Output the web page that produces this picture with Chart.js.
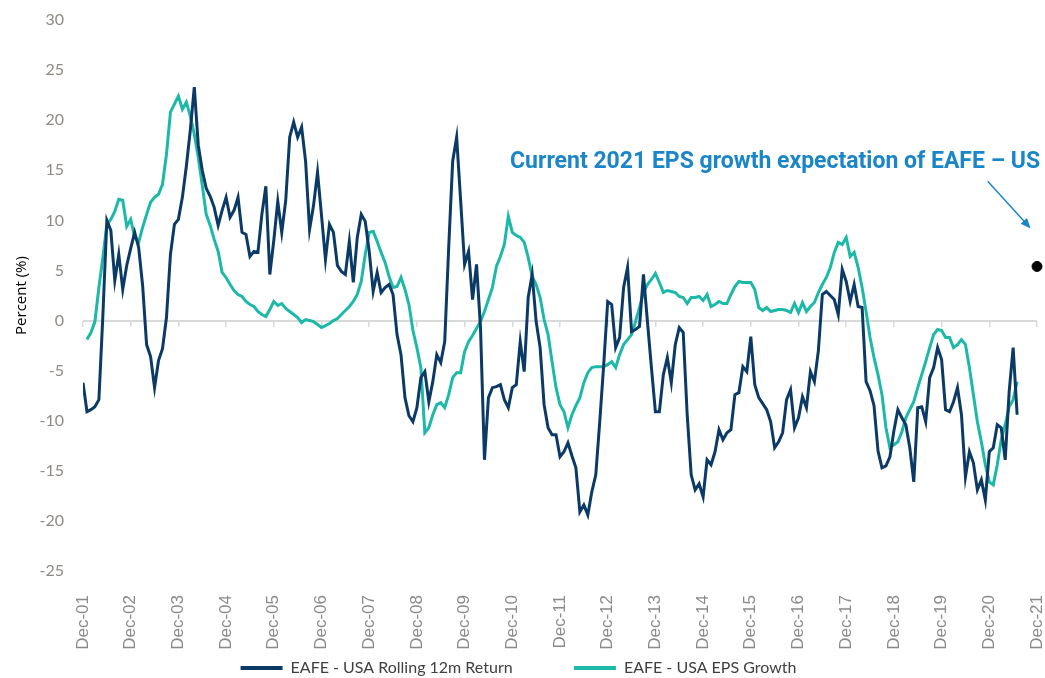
<!DOCTYPE html>
<html>
<head>
<meta charset="utf-8">
<script src="https://cdn.jsdelivr.net/npm/chart.js@4.4.1/dist/chart.umd.min.js"></script>
<style>
  body { margin: 0; background: #fff; }
  canvas { display: block; }
</style>
</head>
<body>
<canvas id="chart" width="1045" height="678"></canvas>
<script>
// x tick labels, one per December (month index 0, 12, 24 ...)
var tickLabels = ['Dec-01','Dec-02','Dec-03','Dec-04','Dec-05','Dec-06','Dec-07','Dec-08','Dec-09','Dec-10',
  'Dec-11','Dec-12','Dec-13','Dec-14','Dec-15','Dec-16','Dec-17','Dec-18','Dec-19','Dec-20','Dec-21'];

var seriesNames = ['EAFE - USA Rolling 12m Return', 'EAFE - USA EPS Growth'];

// monthly values starting Dec-01
var returnSeries = [
  -6.2, -9.1, -8.9, -8.6, -7.9, 0.5, 10.0, 9.0, 4.0, 6.6, 3.1, 5.5,
  7.2, 8.8, 7.3, 3.5, -2.4, -3.6, -6.7, -4.0, -2.8, 0.3, 6.6, 9.6,
  10.1, 12.3, 15.4, 19.0, 23.3, 17.5, 15.0, 13.2, 12.4, 11.3, 9.5, 11.0,
  12.3, 10.3, 11.0, 12.3, 8.8, 8.6, 6.4, 6.9, 6.8, 10.6, 13.4, 4.6,
  8.0, 11.9, 8.8, 12.0, 18.3, 19.8, 18.3, 19.3, 15.9, 9.1, 11.5, 14.8,
  10.5, 6.1, 9.6, 8.8, 5.5, 4.9, 4.6, 7.9, 3.8, 8.3, 10.6, 9.9,
  6.9, 2.9, 4.8, 2.8, 3.3, 3.6, 2.6, -1.4, -3.4, -7.7, -9.5, -10.1,
  -8.7, -5.7, -5.1, -8.1, -6.1, -3.4, -4.2, -2.1, 7.3, 15.9, 18.3, 12.0,
  5.6, 6.9, 2.1, 5.6, -0.7, -13.9, -7.7, -6.7, -6.6, -6.4, -7.9, -8.7,
  -6.7, -6.4, -2.1, -5.1, 2.3, 4.6, -0.1, -2.7, -8.4, -10.7, -11.4, -11.4,
  -13.6, -13.1, -12.2, -13.5, -14.7, -19.1, -18.4, -19.4, -17.1, -15.4, -10.1, -4.4,
  1.9, 1.6, -2.7, -1.7, 3.3, 5.3, -1.1, -0.9, -0.6, 4.6, -0.1, -4.7,
  -9.1, -9.1, -5.4, -3.7, -6.2, -2.4, -0.7, -1.2, -9.4, -15.4, -16.9, -16.3,
  -17.6, -13.9, -14.4, -13.1, -10.9, -11.9, -11.2, -10.9, -7.4, -7.2, -4.6, -5.1,
  -1.6, -6.4, -7.7, -8.3, -8.9, -10.1, -12.7, -12.1, -11.2, -7.9, -6.9, -10.7,
  -9.7, -7.6, -8.7, -5.1, -6.1, -3.0, 2.6, 2.9, 2.5, 2.1, 0.6, 5.1,
  3.9, 1.9, 3.6, 1.4, 1.3, -6.1, -7.0, -8.5, -13.0, -14.7, -14.5, -13.6,
  -11.0, -8.9, -9.7, -10.4, -12.7, -16.1, -8.7, -8.6, -10.1, -5.7, -4.7, -2.7,
  -3.9, -8.9, -9.1, -8.1, -6.7, -9.4, -15.6, -13.1, -14.2, -16.9, -15.9, -17.9,
  -13.1, -12.7, -10.4, -10.7, -13.9, -7.1, -2.7, -9.4
];

var epsSeries = [
  null, -1.9, -1.2, -0.1, 3.3, 6.3, 9.6, 10.1, 10.9, 12.1, 12.0, 9.4,
  10.1, 8.3, 7.8, 9.3, 10.6, 11.8, 12.3, 12.6, 13.6, 16.6, 20.8, 21.6,
  22.4, 21.1, 21.8, 20.4, 18.6, 16.3, 13.5, 10.6, 9.5, 8.1, 6.9, 4.8,
  4.3, 3.6, 3.0, 2.6, 2.4, 1.9, 1.6, 1.4, 0.9, 0.6, 0.4, 1.1,
  1.9, 1.5, 1.7, 1.2, 0.9, 0.6, 0.3, -0.2, 0.1, 0.0, -0.1, -0.4,
  -0.7, -0.5, -0.3, 0.0, 0.2, 0.6, 1.0, 1.4, 1.9, 2.6, 3.9, 6.6,
  8.8, 8.9, 7.9, 6.8, 5.8, 4.4, 3.3, 3.4, 4.3, 3.1, 1.6, -1.0,
  -2.7, -4.7, -11.2, -10.7, -9.4, -8.4, -8.2, -8.7, -7.4, -5.7, -5.2, -5.2,
  -3.1, -2.1, -1.5, -0.8, -0.1, 0.9, 2.1, 3.3, 5.4, 6.4, 7.6, 10.4,
  8.8, 8.5, 8.3, 7.8, 6.3, 4.4, 3.6, 2.3, 0.1, -1.4, -4.1, -6.7,
  -8.4, -9.1, -10.7, -9.4, -8.5, -7.7, -6.2, -5.2, -4.7, -4.6, -4.6, -4.6,
  -4.4, -4.1, -4.7, -3.4, -2.4, -1.9, -1.4, -0.1, 1.3, 2.8, 3.6, 4.1,
  4.7, 3.8, 2.8, 3.0, 2.9, 2.8, 2.4, 2.3, 1.7, 2.3, 2.3, 2.4,
  2.0, 2.6, 1.4, 1.6, 1.9, 1.7, 1.7, 2.6, 3.4, 3.9, 3.8, 3.8,
  3.8, 3.1, 1.3, 1.0, 1.3, 0.9, 1.0, 1.1, 1.1, 1.0, 0.8, 1.7,
  0.8, 1.8, 0.9, 1.4, 1.8, 2.8, 3.6, 4.3, 5.3, 6.8, 7.8, 7.6,
  8.3, 6.4, 6.8, 5.3, 3.3, 0.9, -1.7, -3.7, -5.4, -7.4, -10.7, -12.7,
  -12.4, -12.1, -11.1, -9.7, -8.9, -8.1, -6.7, -5.4, -4.1, -2.7, -1.4, -0.9,
  -1.0, -1.7, -1.7, -2.7, -2.4, -1.9, -2.4, -4.7, -7.4, -10.1, -12.1, -14.4,
  -16.1, -16.4, -14.4, -11.9, -10.4, -8.6, -7.9, -6.1
];

// Dec-21 expectation point
var expectationMonth = 240;
var expectationValue = 5.4;
var annotationText = 'Current 2021 EPS growth expectation of EAFE \u2013 US';

var navy = '#0b3a66';
var teal = '#1cb8a8';
var noteBlue = '#1a86c8';

function toPoints(arr) {
  return arr.map(function (v, i) { return { x: i, y: v }; });
}

var notePlugin = {
  id: 'note',
  afterDatasetsDraw: function (chart) {
    var ctx = chart.ctx;
    var x = chart.scales.x, y = chart.scales.y;
    ctx.save();
    ctx.font = 'bold 23px Roboto';
    ctx.fillStyle = noteBlue;
    ctx.textAlign = 'right';
    ctx.textBaseline = 'middle';
    ctx.fillText(annotationText, x.getPixelForValue(240.8), y.getPixelForValue(15.8));

    // arrow pointing at the dot
    var x1 = x.getPixelForValue(227.6), y1 = y.getPixelForValue(13.9);
    var x2 = x.getPixelForValue(238.4), y2 = y.getPixelForValue(9.2);
    var ang = Math.atan2(y2 - y1, x2 - x1);
    ctx.strokeStyle = noteBlue;
    ctx.lineWidth = 1.5;
    ctx.beginPath();
    ctx.moveTo(x1, y1);
    ctx.lineTo(x2 - 6 * Math.cos(ang), y2 - 6 * Math.sin(ang));
    ctx.stroke();
    ctx.beginPath();
    ctx.moveTo(x2, y2);
    ctx.lineTo(x2 - 11 * Math.cos(ang - 0.4), y2 - 11 * Math.sin(ang - 0.4));
    ctx.lineTo(x2 - 11 * Math.cos(ang + 0.4), y2 - 11 * Math.sin(ang + 0.4));
    ctx.closePath();
    ctx.fillStyle = noteBlue;
    ctx.fill();
    ctx.restore();
  }
};

var ctx = document.getElementById('chart').getContext('2d');
var chart = new Chart(ctx, {
  type: 'line',
  data: {
    datasets: [{
      label: seriesNames[0],
      data: toPoints(returnSeries),
      borderColor: navy,
      backgroundColor: navy,
      borderWidth: 3,
      pointRadius: 0,
      tension: 0
    }, {
      label: seriesNames[1],
      data: toPoints(epsSeries),
      borderColor: teal,
      backgroundColor: teal,
      borderWidth: 3,
      pointRadius: 0,
      tension: 0
    }, {
      label: 'expectation',
      data: [{ x: expectationMonth, y: expectationValue }],
      showLine: false,
      clip: false,
      pointRadius: 5,
      pointBackgroundColor: '#000',
      pointBorderColor: '#000'
    }]
  },
  options: {
    responsive: false,
    animation: false,
    layout: { padding: { top: 20, right: 8, left: 0, bottom: -8 } },
    plugins: {
      tooltip: { enabled: false },
      legend: {
        position: 'bottom',
        labels: {
          boxWidth: 42,
          boxHeight: 4,
          padding: 8,
          color: '#404040',
          font: { family: 'Lato', size: 16 },
          generateLabels: function (chart) {
            return Chart.defaults.plugins.legend.labels.generateLabels(chart)
              .filter(function (l) { return l.datasetIndex < 2; })
              .map(function (l) {
                l.lineWidth = 0;
                if (l.datasetIndex === 0) l.text = l.text + '             ';
                return l;
              });
          }
        }
      }
    },
    scales: {
      x: {
        type: 'linear',
        min: 0,
        max: 240,
        grid: { display: false },
        border: { display: false },
        afterFit: function (scale) {
          scale.height = 81;
          scale.paddingLeft = 0;
          scale.paddingRight = 0;
        },
        ticks: {
          stepSize: 12,
          autoSkip: false,
          minRotation: 90,
          maxRotation: 90,
          padding: 16,
          color: '#8a8a8a',
          font: { family: 'Liberation Sans', size: 17 },
          callback: function (v) { return tickLabels[v / 12]; }
        }
      },
      xZero: {
        type: 'linear',
        position: { y: 0 },
        min: 0,
        max: 240,
        afterFit: function (scale) {
          scale.paddingLeft = 0;
          scale.paddingRight = 0;
        },
        grid: { drawOnChartArea: false, tickLength: 6, color: '#d9d9d9', lineWidth: 1.5 },
        border: { display: false },
        ticks: { display: false, stepSize: 12, autoSkip: false }
      },
      y: {
        min: -25,
        max: 30,
        afterFit: function (scale) {
          scale.width = 83;
          scale.paddingTop = 0;
          scale.paddingBottom = 0;
        },
        grid: {
          drawTicks: false,
          lineWidth: 2,
          color: function (c) { return c.tick && c.tick.value === 0 ? '#d9d9d9' : 'rgba(0,0,0,0)'; }
        },
        border: { display: false },
        title: {
          display: true,
          text: 'Percent (%)',
          color: '#000',
          font: { family: 'Open Sans', size: 15 },
          padding: { top: 13, bottom: 0 }
        },
        ticks: {
          stepSize: 5,
          padding: 19,
          color: '#8f8a85',
          font: { family: 'Lato', size: 16 }
        }
      }
    }
  },
  plugins: [notePlugin]
});
</script>
</body>
</html>
